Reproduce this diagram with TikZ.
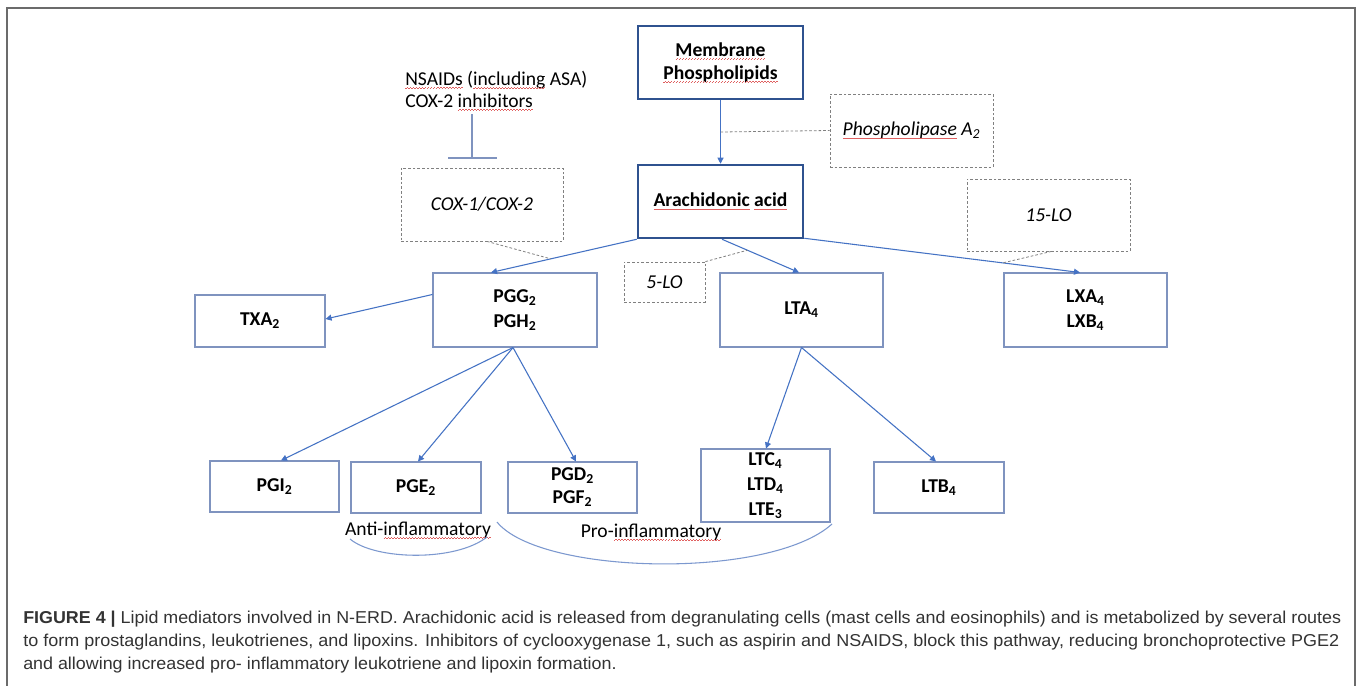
\documentclass[tikz,border=0pt]{standalone}
\usepackage{fontspec}
\setmainfont{Carlito}
\newfontfamily\capfont{Liberation Sans}
\usetikzlibrary{arrows.meta,calc}
\newlength\pxu \setlength\pxu{0.75pt}
\newlength\capwA
\newsavebox\sqbox
\definecolor{thickblue}{HTML}{2F528F}
\definecolor{boxblue}{HTML}{7F93BF}
\definecolor{arrowblue}{HTML}{4472C4}
\definecolor{dashgray}{HTML}{808080}
\definecolor{framegray}{HTML}{6B6B6B}
\definecolor{arcblue}{HTML}{7C98CF}
\definecolor{captext}{HTML}{333333}
\definecolor{spellred}{HTML}{E06060}
\newcommand\lo[1]{\textsubscript{#1}}
\newcommand\sq[1]{\sbox\sqbox{#1}\leavevmode\rlap{\usebox\sqbox}\lower2.6pt\hbox to \wd\sqbox{\color{spellred}\xleaders\hbox to 2.2pt{\rule{1.1pt}{0.5pt}\raise0.6pt\hbox{\rule{1.1pt}{0.5pt}}}\hfill}}
\newcommand\capset{\capfont\fontsize{12.9}{15}\selectfont\color{captext}}
\newcommand\capone{\textbf{FIGURE 4 |} Lipid mediators involved in N-ERD. Arachidonic acid is released from degranulating cells (mast cells and eosinophils) and is metabolized by several routes}
\tikzset{
  lbl/.style={font=\fontsize{14.7}{18.75}\selectfont\bfseries, align=center, inner sep=0pt},
  mainbox/.style={lbl, draw=thickblue, line width=1.9pt},
  prodbox/.style={lbl, draw=boxblue, line width=0.8pt},
  enzbox/.style={draw=dashgray, dash pattern=on 2pt off 1.5pt, line width=0.6pt,
    font=\fontsize{14.7}{18}\selectfont\itshape, inner sep=0pt},
  flow/.style={draw=arrowblue, line width=0.8pt, -{Triangle[width=4.5pt,length=4.5pt]}},
  dconn/.style={draw=dashgray, dash pattern=on 2pt off 1.5pt, line width=0.6pt},
  inhib/.style={draw=boxblue, line width=0.9pt},
  arcline/.style={draw=arcblue, line width=0.8pt},
  plain/.style={font=\fontsize{14.7}{16.5}\selectfont, inner sep=0pt},
  sz/.style 2 args={minimum width=#1\pxu, minimum height=#2\pxu}
}
\begin{document}
\settowidth\capwA{\capset\capone}%
\pgfmathsetmacro\capsc{1318*0.75/\capwA}%
\begin{tikzpicture}[x=0.75pt,y=-0.75pt]
\fill[white] (0,0) rectangle (1358,685);
\useasboundingbox (0,0) rectangle (1358,685);
\draw[framegray, line width=1.1pt] (7,690) -- (7,8) -- (1355,8) -- (1355,690);

% main boxes
\node[mainbox, sz={165}{73}, font=\fontsize{14.7}{17.25}\selectfont\bfseries] (mem) at (720.5,62.5) {\sq{Membrane}\\\sq{Phospholipids}};
\node[mainbox, sz={165}{73}] (ara) at (720.5,201.5) {\sq{Arachidonic} \sq{acid}};

% enzymes
\node[enzbox, sz={163}{73}] (pla) at (911.5,130.5) {\sq{Phospholipase} A\lo{2}};
\node[enzbox, sz={162}{73}] (cox) at (482,204.5) {COX-1/COX-2};
\node[enzbox, sz={81}{40}] (lo5) at (664.5,282) {5-LO};
\node[enzbox, sz={163}{72}] (lo15) at (1048.5,215) {15-LO};

% products
\node[prodbox, sz={164}{74}] (pgg) at (515,310) {PGG\lo{2}\\PGH\lo{2}};
\node[prodbox, sz={130}{52}] (txa) at (260,321) {TXA\lo{2}};
\node[prodbox, sz={163}{74}] (lta) at (801.5,310) {LTA\lo{4}};
\node[prodbox, sz={163}{74}] (lxa) at (1085.5,310) {LXA\lo{4}\\LXB\lo{4}};
\node[prodbox, sz={129}{51}] (pgi) at (274.5,486.5) {PGI\lo{2}};
\node[prodbox, sz={130}{51}] (pge) at (416,487.5) {PGE\lo{2}};
\node[prodbox, sz={129}{51}, font=\fontsize{14.7}{17.25}\selectfont\bfseries] (pgd) at (572.5,487.5) {PGD\lo{2}\\PGF\lo{2}};
\node[prodbox, sz={129}{73}] (ltc) at (765.5,485.5) {LTC\lo{4}\\LTD\lo{4}\\LTE\lo{3}};
\node[prodbox, sz={130}{51}] (ltb) at (939,487.5) {LTB\lo{4}};

% inhibitors
\node[plain, align=left, anchor=west] (nsaid) at (405,91) {\sq{NSAIDs} (\sq{including} ASA)\\COX-2 \sq{inhibitors}};
\coordinate (inh) at (472,158);
\draw[inhib] ([yshift=-3\pxu]nsaid.south -| inh) -- (inh);
\draw[inhib] ([xshift=-24\pxu]inh) -- ([xshift=25\pxu]inh);

% flows
\draw[flow] (mem.south) -- (ara.north);
\draw[flow] (ara.south west) -- ([xshift=-24\pxu]pgg.north);
\draw[flow] ([xshift=1.5\pxu]ara.south) -- ([xshift=-2.5\pxu]lta.north);
\draw[flow] ([yshift=1\pxu]ara.south east) -- ([xshift=-5.5\pxu]lxa.north);
\draw[flow] ([yshift=-22\pxu]pgg.north west) -- ([yshift=2\pxu]txa.east);
\coordinate (pb) at ([xshift=-2\pxu]pgg.south);
\draw[flow] (pb) -- ([xshift=6.5\pxu]pgi.north);
\draw[flow] (pb) -- ([xshift=2\pxu]pge.north);
\draw[flow] (pb) -- ([xshift=3.5\pxu]pgd.north);
\draw[flow] (lta.south) -- ([xshift=0.5\pxu]ltc.north);
\draw[flow] (lta.south) -- ([xshift=-3\pxu]ltb.north);

% enzyme connectors
\coordinate (j1) at ($(mem.south)!0.5!(ara.north)$);
\draw[dconn] (j1) -- (pla.west);
\coordinate (j2) at ($(ara.south west)!0.59!([xshift=-24\pxu]pgg.north)$);
\draw[dconn] ([xshift=5\pxu]cox.south) -- (j2);
\coordinate (j3) at ($([xshift=1.5\pxu]ara.south)!0.33!([xshift=-2.5\pxu]lta.north)$);
\draw[dconn] (lo5.north east) -- (j3);
\coordinate (j4) at ($([yshift=1\pxu]ara.south east)!0.72!([xshift=-5.5\pxu]lxa.north)$);
\draw[dconn] ([xshift=3\pxu]lo15.south) -- (j4);

% groups
\node[plain] (anti) at (418,530) {Anti-\sq{inflammatory}};
\node[plain] (pro) at (651,532) {Pro-\sq{inflammatory}};
\draw[arcline] (350,539) .. controls (375,560) and (455,562) .. (487,537);
\draw[arcline] (497,522) .. controls (540,575) and (770,580) .. (832,524);

% caption
\node[anchor=base west, inner sep=0pt] (cap1) at (23,623) {\scalebox{\capsc}[1]{\capset\capone}};
\node[anchor=base west, inner sep=0pt] (cap2) at (23,646) {\resizebox{1316\pxu}{\height}{\capset to form prostaglandins, leukotrienes, and lipoxins. Inhibitors of cyclooxygenase 1, such as aspirin and NSAIDS, block this pathway, reducing bronchoprotective PGE2}};
\node[anchor=base west, inner sep=0pt] (cap3) at (23,669) {\scalebox{\capsc}[1]{\capset and allowing increased pro- inflammatory leukotriene and lipoxin formation.}};
\end{tikzpicture}
\end{document}
